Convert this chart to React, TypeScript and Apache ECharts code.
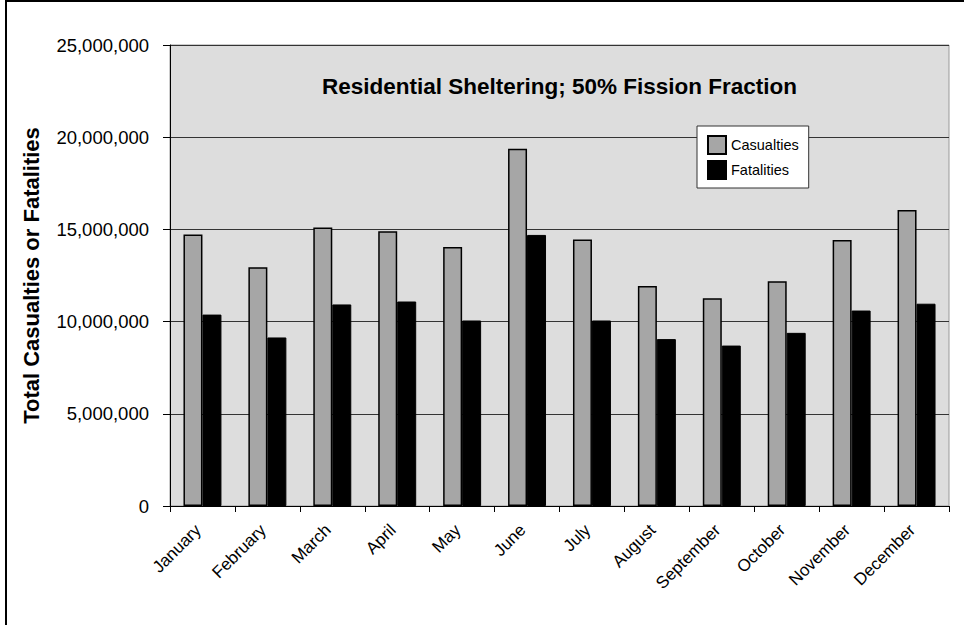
import React, { useEffect, useRef } from "react";
import * as echarts from "echarts";

const months = ["January", "February", "March", "April", "May", "June", "July", "August", "September", "October", "November", "December"];
const casualties = [14720000, 12950000, 15100000, 14900000, 14050000, 19380000, 14450000, 11930000, 11270000, 12190000, 14430000, 16050000];
const fatalities = [10380000, 9140000, 10930000, 11090000, 10060000, 14700000, 10060000, 9050000, 8700000, 9390000, 10600000, 10970000];
const yTicks = { min: 0, max: 25000000, interval: 5000000 };
const titleText = "Residential Sheltering; 50% Fission Fraction";
const yName = "Total Casualties or Fatalities";

export default function App() {
  const ref = useRef<HTMLDivElement>(null);
  useEffect(() => {
    if (!ref.current) return;
    const chart = echarts.init(ref.current, undefined, { renderer: "svg" });
    const font = "'Liberation Sans', Arial, sans-serif";
    chart.setOption({
      animation: false,
      backgroundColor: "#ffffff",
      grid: {
        left: 170,
        top: 45,
        right: 15,
        bottom: 119,
        show: true,
        backgroundColor: "#dddddd",
        borderColor: "#999999",
        borderWidth: 1,
      },
      legend: {
        orient: "vertical",
        left: 697,
        top: 126,
        padding: [9, 10, 8, 10],
        itemWidth: 18,
        itemHeight: 18,
        itemGap: 5,
        icon: "rect",
        backgroundColor: "#ffffff",
        borderColor: "#333333",
        borderWidth: 1,
        textStyle: { fontFamily: font, fontSize: 14.5, color: "#000" },
        data: ["Casualties", "Fatalities"],
      },
      xAxis: {
        type: "category",
        data: months,
        boundaryGap: true,
        axisLine: { lineStyle: { color: "#000", width: 1 } },
        axisTick: { show: true, length: 6, interval: 0, lineStyle: { color: "#000" } },
        axisLabel: {
          interval: 0,
          rotate: 45,
          margin: 17,
          padding: [0, 6, 0, 0],
          fontFamily: font,
          fontSize: 17,
          color: "#000",
        },
      },
      yAxis: {
        type: "value",
        min: yTicks.min,
        max: yTicks.max,
        interval: yTicks.interval,
        name: yName,
        nameLocation: "middle",
        nameGap: 128,
        nameTextStyle: { fontFamily: font, fontSize: 22, fontWeight: "bold", color: "#000" },
        axisLine: { show: true, lineStyle: { color: "#000", width: 1 } },
        axisTick: { show: true, length: 7, lineStyle: { color: "#000" } },
        axisLabel: {
          margin: 21,
          fontFamily: font,
          fontSize: 18.5,
          color: "#000",
          formatter: (v: number) => v.toLocaleString("en-US"),
        },
        splitLine: { show: true, lineStyle: { color: "#333333", width: 1 } },
      },
      graphic: [
        {
          type: "rect",
          shape: { x: 6, y: 1, width: 1000, height: 700 },
          style: { fill: "none", stroke: "#000", lineWidth: 2 },
          silent: true,
        },
        {
          type: "text",
          x: 559.5,
          y: 86,
          style: {
            text: titleText,
            fontFamily: font,
            fontSize: 22.5,
            fontWeight: "bold",
            fill: "#000",
            textAlign: "center",
            textVerticalAlign: "middle",
          },
          z: 10,
        },
      ],
      series: [
        {
          name: "Casualties",
          type: "bar",
          data: casualties,
          barGap: "0%",
          barCategoryGap: "41.5%",
          itemStyle: { color: "#a6a6a6", borderColor: "#000", borderWidth: 1.5 },
        },
        {
          name: "Fatalities",
          type: "bar",
          data: fatalities,
          itemStyle: { color: "#000000", borderColor: "#000", borderWidth: 1 },
        },
      ],
    });
    return () => chart.dispose();
  }, []);
  return <div ref={ref} style={{ position: "fixed", left: 0, top: 0, width: 964, height: 625 }} />;
}
